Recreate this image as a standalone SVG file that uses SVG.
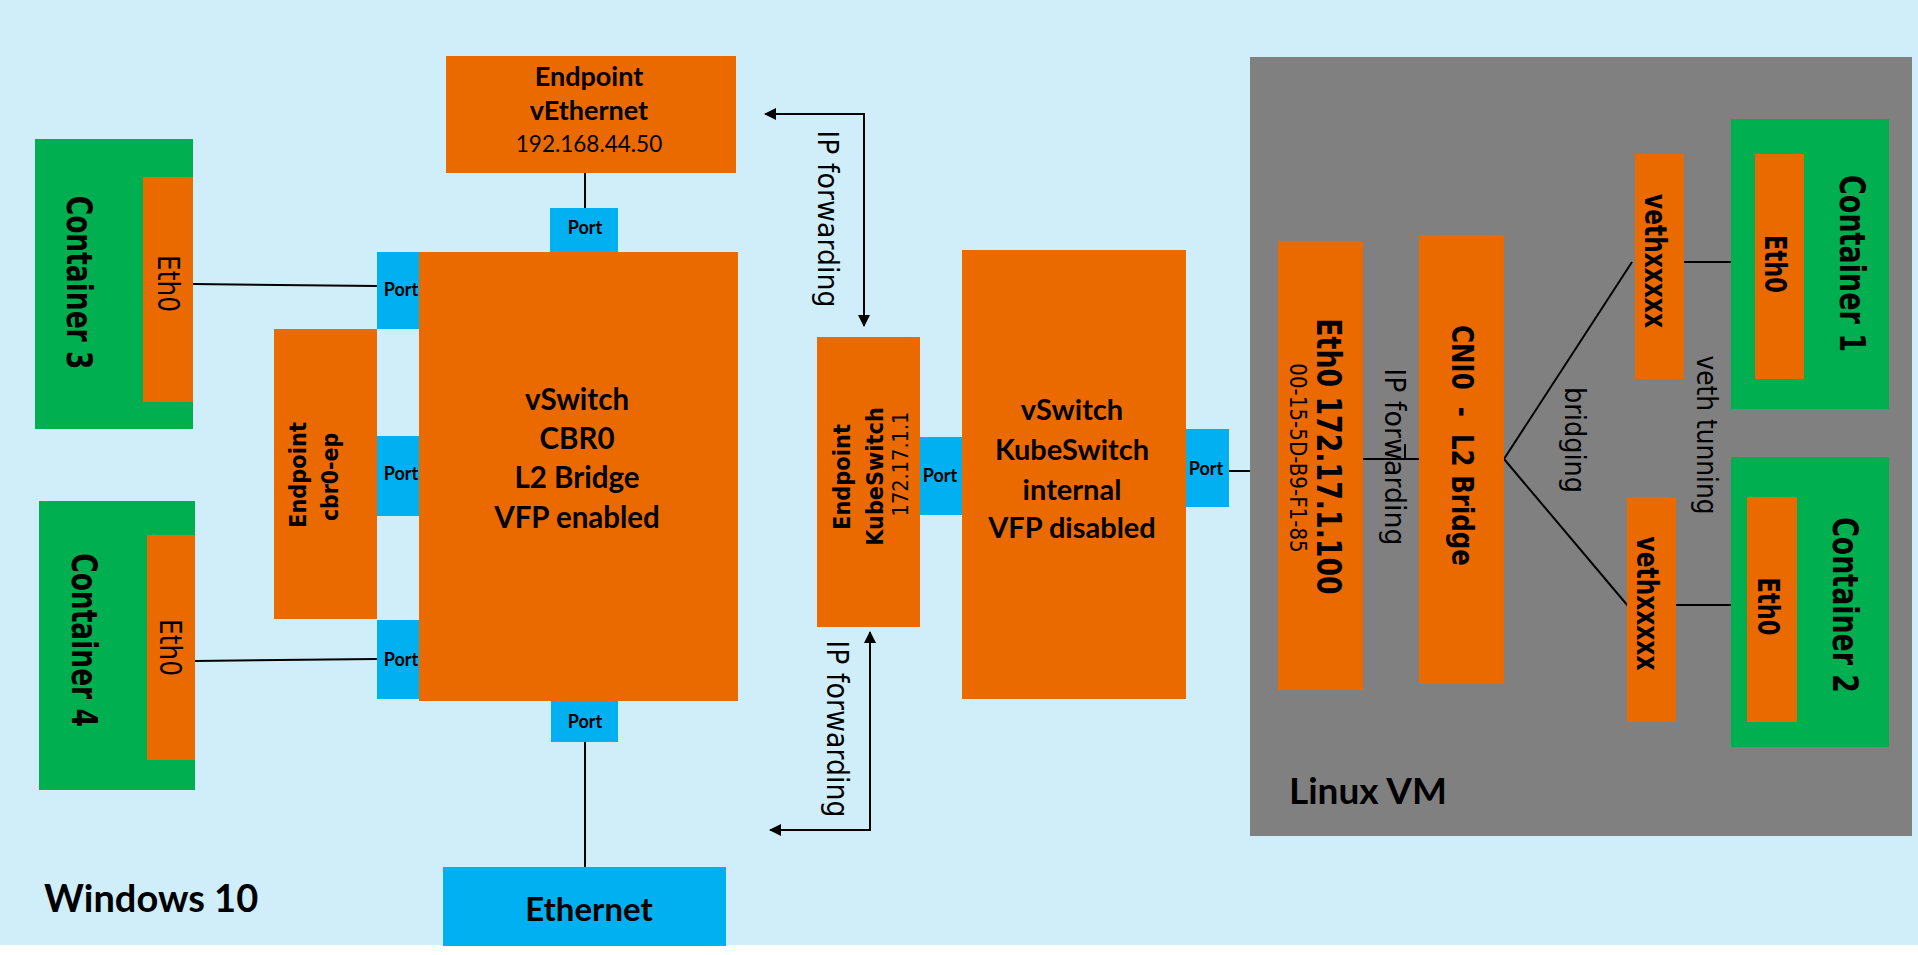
<svg xmlns="http://www.w3.org/2000/svg" width="1918" height="955" viewBox="0 0 1918 955">
<defs>
<style>
.bg{fill:#D0EEFA}
.or{fill:#EA6A00}
.pt{fill:#00B0F0}
.gr{fill:#00B050}
.vm{fill:#808080}
.ln{stroke:#000;stroke-width:2;fill:none}
.cal{font-family:Lato,"Liberation Sans",sans-serif;font-weight:bold;fill:#000}
.calr{font-family:Lato,"Liberation Sans",sans-serif;font-weight:normal;fill:#000}
.dv{font-family:"DejaVu Sans",Verdana,sans-serif;fill:#000}
.b{font-weight:bold}
.port{font-family:Lato,"Liberation Sans",sans-serif;font-weight:bold;font-size:18px;fill:#000;text-anchor:middle}
</style>
<marker id="ah" viewBox="0 0 12 12" refX="11" refY="6" markerWidth="12" markerHeight="12" markerUnits="userSpaceOnUse" orient="auto-start-reverse">
<path d="M0,0 L12,6 L0,12 z" fill="#000"/>
</marker>
</defs>

<rect x="0" y="0" width="1918" height="955" fill="#FFFFFF"/>
<rect class="bg" x="0" y="0" width="1918" height="945"/>

<g id="linux-vm">
<rect class="vm" x="1250" y="57" width="662" height="779"/>
<text class="cal" x="1289" y="804" font-size="37">Linux VM</text>
</g>

<g id="windows-label">
<text class="cal" x="44" y="912" font-size="38">Windows 10</text>
</g>

<g id="connectors">
<line class="ln" x1="585" y1="173" x2="585" y2="208" stroke-width="1.5"/>
<line class="ln" x1="193" y1="284" x2="377" y2="286"/>
<line class="ln" x1="195" y1="661" x2="377" y2="659"/>
<line class="ln" x1="585" y1="742" x2="585" y2="867" stroke-width="1.5"/>
<line class="ln" x1="1229" y1="471" x2="1250" y2="471" stroke-width="3.5"/>
<line class="ln" x1="1363" y1="459" x2="1419" y2="459"/>
<line class="ln" x1="1405" y1="444" x2="1405" y2="459" stroke-width="1.5"/>
<line class="ln" x1="1504" y1="459" x2="1632" y2="262" stroke-width="1.5"/>
<line class="ln" x1="1504" y1="459" x2="1628" y2="606" stroke-width="1.5"/>
<line class="ln" x1="1684" y1="262" x2="1755" y2="262"/>
<line class="ln" x1="1676" y1="605" x2="1747" y2="605"/>
<polyline class="ln" points="765,114 864,114 864,326" marker-start="url(#ah)" marker-end="url(#ah)"/>
<polyline class="ln" points="870,632 870,830 770,830" marker-start="url(#ah)" marker-end="url(#ah)"/>
<text class="dv" transform="translate(818,219) rotate(90) scale(1,1.08)" text-anchor="middle" font-size="26.9">IP forwarding</text>
<text class="dv" transform="translate(827,729) rotate(90) scale(1,1.1)" text-anchor="middle" font-size="26.9">IP forwarding</text>
<text class="dv" transform="translate(1385,457) rotate(90) scale(1,1.08)" text-anchor="middle" font-size="26.9">IP forwarding</text>
<text class="dv" transform="translate(1565,440) rotate(90) scale(1,1.14)" text-anchor="middle" font-size="25.6">bridging</text>
<text class="dv" transform="translate(1697,435) rotate(90) scale(1,1.13)" text-anchor="middle" font-size="24.9">veth tunning</text>
</g>

<g id="container3">
<rect class="gr" x="35" y="139" width="158" height="290"/>
<text class="dv b" transform="translate(67,282.5) rotate(90) scale(1,1.32)" text-anchor="middle" font-size="26.5">Container 3</text>
</g>
<g id="container3-eth0">
<rect class="or" x="143" y="177" width="50" height="225"/>
<text class="dv" transform="translate(158,283.5) rotate(90) scale(1,1.22)" text-anchor="middle" font-size="24.8">Eth0</text>
</g>

<g id="container4">
<rect class="gr" x="39" y="501" width="156" height="289"/>
<text class="dv b" transform="translate(72,640) rotate(90) scale(1,1.32)" text-anchor="middle" font-size="26.5">Container 4</text>
</g>
<g id="container4-eth0">
<rect class="or" x="147" y="535" width="48" height="225"/>
<text class="dv" transform="translate(160,647.5) rotate(90) scale(1,1.2)" text-anchor="middle" font-size="24.8">Eth0</text>
</g>

<g id="endpoint-vethernet">
<rect class="or" x="446" y="56" width="290" height="117"/>
<text class="cal" x="589" y="86" font-size="27" text-anchor="middle">Endpoint</text>
<text class="cal" x="589" y="120" font-size="27" text-anchor="middle">vEthernet</text>
<text class="calr" x="589" y="152" font-size="22.5" text-anchor="middle">192.168.44.50</text>
</g>

<g id="port-top">
<rect class="pt" x="550" y="208" width="68" height="44"/>
<text class="port" x="585" y="234">Port</text>
</g>

<g id="vswitch-cbr0">
<rect class="or" x="419" y="252" width="319" height="449"/>
<text class="cal" x="577" y="410" font-size="29.5" text-anchor="middle">vSwitch</text>
<text class="cal" x="577" y="449" font-size="29.5" text-anchor="middle">CBR0</text>
<text class="cal" x="577" y="488" font-size="29.5" text-anchor="middle">L2 Bridge</text>
<text class="cal" x="577" y="528" font-size="29.5" text-anchor="middle">VFP enabled</text>
</g>

<g id="port-left-1">
<rect class="pt" x="377" y="252" width="42" height="77"/>
<text class="port" x="401" y="296">Port</text>
</g>
<g id="port-left-2">
<rect class="pt" x="377" y="436" width="42" height="80"/>
<text class="port" x="401" y="480">Port</text>
</g>
<g id="port-left-3">
<rect class="pt" x="377" y="620" width="42" height="79"/>
<text class="port" x="401" y="666">Port</text>
</g>
<g id="port-bottom">
<rect class="pt" x="551" y="701" width="67" height="41"/>
<text class="port" x="585" y="728">Port</text>
</g>

<g id="endpoint-cbr0-ep">
<rect class="or" x="274" y="329" width="103" height="290"/>
<text class="dv b" transform="translate(306,475) rotate(-90) scale(1,1.1)" text-anchor="middle" font-size="21">Endpoint</text>
<text class="dv b" transform="translate(338,477) rotate(-90) scale(1,1.1)" text-anchor="middle" font-size="20.5">cbr0-ep</text>
</g>

<g id="ethernet">
<rect class="pt" x="443" y="867" width="283" height="79"/>
<text class="cal" x="589" y="921" font-size="33" text-anchor="middle">Ethernet</text>
</g>

<g id="endpoint-kubeswitch">
<rect class="or" x="817" y="337" width="103" height="290"/>
<text class="dv b" transform="translate(850,477) rotate(-90) scale(1,1.1)" text-anchor="middle" font-size="21">Endpoint</text>
<text class="dv b" transform="translate(883,476.5) rotate(-90) scale(1,1.1)" text-anchor="middle" font-size="20.9">KubeSwitch</text>
<text class="dv" transform="translate(908,464) rotate(-90) scale(1,1.06)" text-anchor="middle" font-size="19.4">172.17.1.1</text>
</g>

<g id="port-kube-left">
<rect class="pt" x="920" y="437" width="42" height="78"/>
<text class="port" x="940" y="482">Port</text>
</g>

<g id="vswitch-kubeswitch">
<rect class="or" x="962" y="250" width="224" height="449"/>
<text class="cal" x="1072" y="420" font-size="29" text-anchor="middle">vSwitch</text>
<text class="cal" x="1072" y="460" font-size="29" text-anchor="middle">KubeSwitch</text>
<text class="cal" x="1072" y="500" font-size="29" text-anchor="middle">internal</text>
<text class="cal" x="1072" y="538" font-size="29" text-anchor="middle">VFP disabled</text>
</g>

<g id="port-kube-right">
<rect class="pt" x="1186" y="429" width="43" height="78"/>
<text class="port" x="1206" y="475">Port</text>
</g>

<g id="linux-eth0">
<rect class="or" x="1278" y="241" width="85" height="449"/>
<text class="dv b" transform="translate(1317,456.5) rotate(90) scale(1,1.27)" text-anchor="middle" font-size="26.8">Eth0 172.17.1.100</text>
<text class="dv" transform="translate(1290,458) rotate(90) scale(1,1.17)" text-anchor="middle" font-size="19.9">00-15-5D-B9-F1-85</text>
</g>

<g id="cni0">
<rect class="or" x="1419" y="235" width="85" height="449"/>
<text class="dv b" transform="translate(1452,445.5) rotate(90) scale(1,1.26)" text-anchor="middle" font-size="24.5" xml:space="preserve" style="white-space:pre">CNI0  -  L2 Bridge</text>
</g>

<g id="veth1">
<rect class="or" x="1635" y="154" width="49" height="225"/>
<text class="dv b" transform="translate(1645,261) rotate(90) scale(1,1.3)" text-anchor="middle" font-size="23.3">vethxxxxx</text>
</g>

<g id="veth2">
<rect class="or" x="1627" y="497" width="49" height="225"/>
<text class="dv b" transform="translate(1637,603.5) rotate(90) scale(1,1.3)" text-anchor="middle" font-size="23.3">vethxxxxx</text>
</g>

<g id="container1">
<rect class="gr" x="1731" y="119" width="158" height="290"/>
<text class="dv b" transform="translate(1840,263.5) rotate(90) scale(1,1.34)" text-anchor="middle" font-size="27">Container 1</text>
</g>
<g id="container1-eth0">
<rect class="or" x="1755" y="154" width="49" height="225"/>
<text class="dv b" transform="translate(1765,264) rotate(90) scale(1,1.34)" text-anchor="middle" font-size="22.6">Eth0</text>
</g>

<g id="container2">
<rect class="gr" x="1731" y="457" width="158" height="290"/>
<text class="dv b" transform="translate(1833,605) rotate(90) scale(1,1.34)" text-anchor="middle" font-size="26.8">Container 2</text>
</g>
<g id="container2-eth0">
<rect class="or" x="1747" y="497" width="50" height="225"/>
<text class="dv b" transform="translate(1758,606.5) rotate(90) scale(1,1.34)" text-anchor="middle" font-size="22.6">Eth0</text>
</g>
</svg>
